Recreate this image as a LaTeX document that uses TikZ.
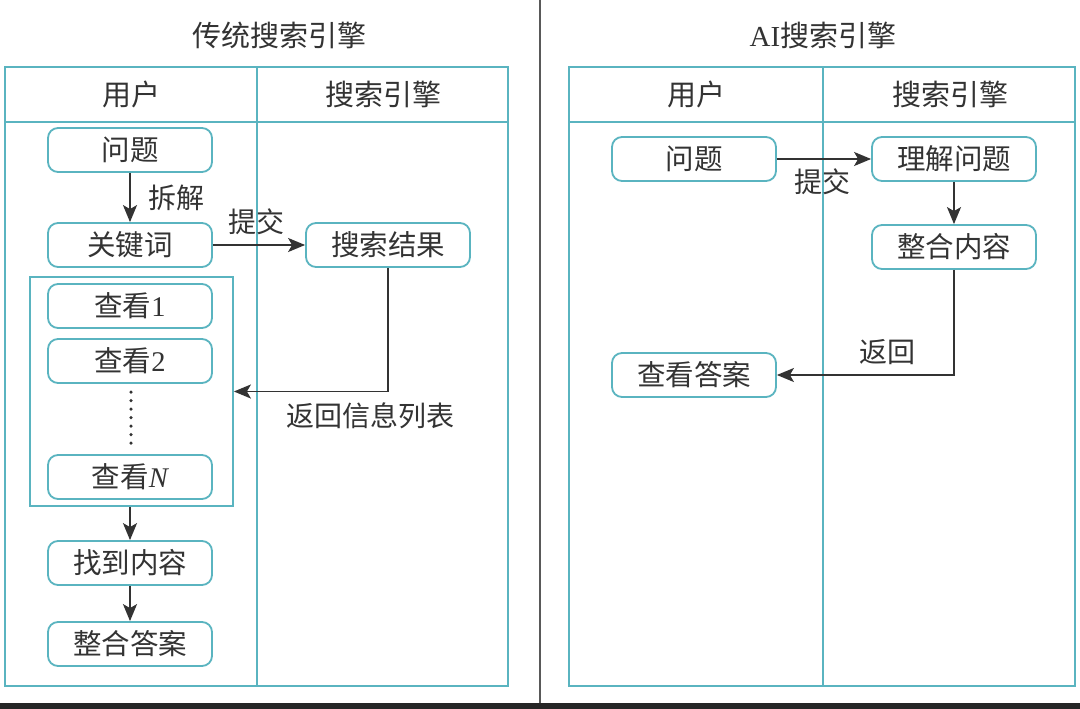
\documentclass[tikz,border=0pt]{standalone}
\usepackage{fontspec}
\setmainfont{Noto Sans CJK SC}
\newfontfamily\lat{Liberation Serif}
\usetikzlibrary{arrows.meta}
\definecolor{tealc}{HTML}{5AB4C0}
\definecolor{txt}{HTML}{333333}
\definecolor{dk}{HTML}{333333}
\begin{document}
\begin{tikzpicture}[x=1pt,y=-1pt,
  frame/.style={draw=tealc, line width=2pt},
  box/.style={draw=tealc, line width=1.8pt, rounded corners=10pt, minimum width=164pt, minimum height=44pt, inner sep=0pt, font=\fontsize{28.5}{30}\selectfont, text=txt},
  grpbox/.style={draw=tealc, line width=1.8pt, inner sep=0pt},
  arr/.style={draw=dk, line width=1.8pt, -{Stealth[length=17pt,width=14pt,inset=4pt]}},
  lbl/.style={font=\fontsize{28}{30}\selectfont, text=txt, inner sep=0pt},
  ttl/.style={font=\fontsize{29}{32}\selectfont, text=txt, inner sep=0pt}]
\useasboundingbox (0,0) rectangle (1080,709);
\fill[white] (0,0) rectangle (1080,709);
% separators
\draw[draw=black!65, line width=1.5pt] (540,0) -- (540,703);
\fill[black!85] (0,703) rectangle (1080,709);
% titles
\node[ttl] (t1) at (279,35) {传统搜索引擎};
\node[ttl] (t2) at (823,35) {{\lat AI}搜索引擎};
% left frame
\draw[frame] (5,67) rectangle (508,686);
\draw[frame] (5,122) -- (508,122);
\draw[frame] (257,67) -- (257,686);
\node[ttl] (h1) at (131,94) {用户};
\node[ttl] (h2) at (383,94) {搜索引擎};
% right frame
\draw[frame] (569,67) rectangle (1075,686);
\draw[frame] (569,122) -- (1075,122);
\draw[frame] (823,67) -- (823,686);
\node[ttl] (h3) at (696,94) {用户};
\node[ttl] (h4) at (950,94) {搜索引擎};
% left nodes
\node[box] (q) at (130,150) {问题};
\node[box] (kw) at (130,245) {关键词};
\node[grpbox, minimum width=203pt, minimum height=229pt] (grp) at (131.5,391.5) {};
\node[box] (v1) at (130,306) {查看{\lat 1}};
\node[box] (v2) at (130,361) {查看{\lat 2}};
\node[box] (vn) at (130,477) {查看{\lat\itshape N}};
\node[box] (fd) at (130,563) {找到内容};
\node[box] (zd) at (130,644) {整合答案};
\node[box] (sr) at (388,245) {搜索结果};
\draw[dk, line width=3.5pt, line cap=round, dash pattern=on 0pt off 8.5pt] (131,392) -- (131,444);
\draw[arr] (q) -- (kw);
\node[lbl] (l1) at (176,198) {拆解};
\draw[arr] (kw) -- (sr);
\node[lbl] (l2) at (256,222) {提交};
\draw[arr] (sr.south) |- (grp.east);
\node[lbl] (l3) at (370,416) {返回信息列表};
\draw[arr] (grp.south -| fd.north) -- (fd);
\draw[arr] (fd) -- (zd);
% right nodes
\node[box] (q2) at (694,159) {问题};
\node[box] (lj) at (954,159) {理解问题};
\node[box] (zh) at (954,247) {整合内容};
\node[box] (ans) at (694,375) {查看答案};
\draw[arr] (q2) -- (lj);
\node[lbl] (l4) at (822,182) {提交};
\draw[arr] (lj) -- (zh);
\draw[arr] (zh.south) |- (ans.east);
\node[lbl] (l5) at (887,352) {返回};
\end{tikzpicture}
\end{document}
